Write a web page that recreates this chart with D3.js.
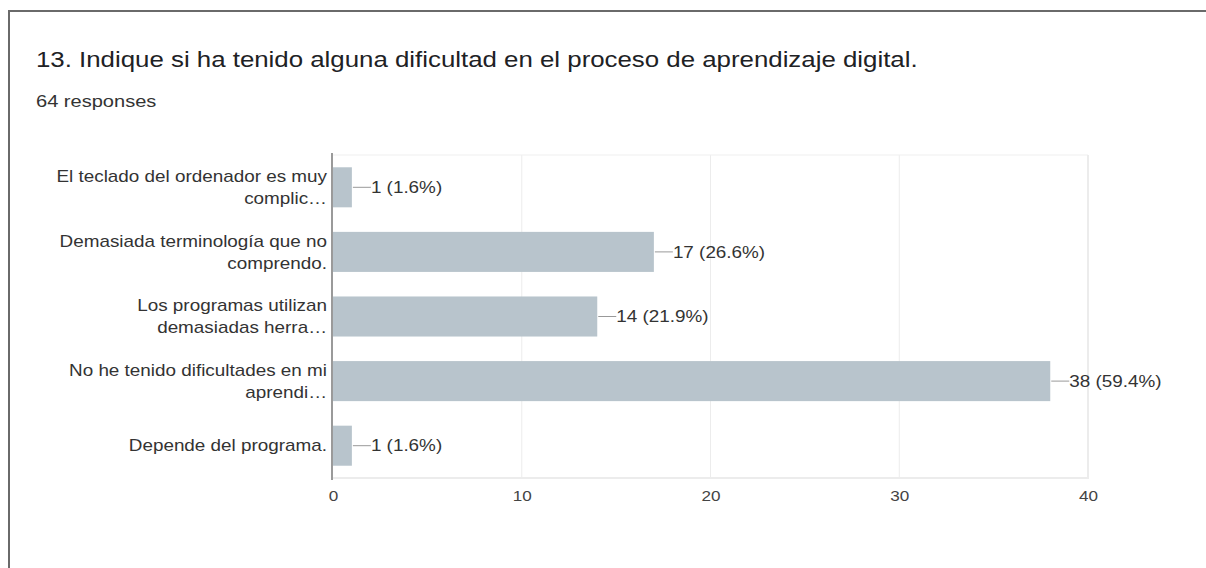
<!DOCTYPE html>
<html><head><meta charset="utf-8">
<script src="https://cdn.jsdelivr.net/npm/d3@7"></script>
<style>body{margin:0;background:#fff}svg{display:block}</style>
</head><body>
<svg id="c" width="1206" height="568"></svg>
<script>
const categories = [
  ["El teclado del ordenador es muy", "complic…"],
  ["Demasiada terminología que no", "comprendo."],
  ["Los programas utilizan", "demasiadas herra…"],
  ["No he tenido dificultades en mi", "aprendi…"],
  ["Depende del programa."]
];
const counts = [1, 17, 14, 38, 1];
const percents = ["1.6%", "26.6%", "21.9%", "59.4%", "1.6%"];
const tickValues = [0, 10, 20, 30, 40];
const title = "13. Indique si ha tenido alguna dificultad en el proceso de aprendizaje digital.";
const subtitle = "64 responses";

(function(){
const svg = d3.select("#c");
const font = "'Liberation Sans', Arial, Helvetica, sans-serif";
const SX = 1.18; // horizontal stretch of the reference text

function stretchedText(parent, x, y, size, anchor, txt, fill){
  const gg = parent.append("g").attr("transform",`translate(${x},${y}) scale(${SX},1)`);
  return gg.append("text").attr("x",0).attr("y",0).attr("font-family",font).attr("font-size",size)
    .attr("text-anchor",anchor).attr("fill",fill).text(txt);
}

// outer card border
svg.append("path").attr("d","M9,568 V11 H1206").attr("fill","none").attr("stroke","#6a6a6a").attr("stroke-width",2);

stretchedText(svg,36,67,21.9,"start",title,"#202124");
stretchedText(svg,36,107,17,"start",subtitle,"#333");

const x0 = 333, x1 = 1088, pTop = 155, pBottom = 478;
const x = d3.scaleLinear().domain([0,40]).range([x0,x1]);
const idx = d3.range(categories.length);
const y = d3.scaleBand().domain(idx).range([pTop,pBottom]).paddingInner(0.38).paddingOuter(0.19);

const g = svg.append("g");
g.selectAll("line.grid").data(tickValues.slice(1)).join("line")
  .attr("x1",d=>x(d)).attr("x2",d=>x(d)).attr("y1",pTop).attr("y2",pBottom)
  .attr("stroke","#ececec").attr("stroke-width",1);
g.append("line").attr("x1",x0).attr("x2",x1).attr("y1",pTop).attr("y2",pTop).attr("stroke","#efefef");
g.append("line").attr("x1",x0).attr("x2",x1+1).attr("y1",pBottom).attr("y2",pBottom).attr("stroke","#ececec").attr("stroke-width",2);
g.append("line").attr("x1",x1).attr("x2",x1).attr("y1",pTop).attr("y2",pBottom).attr("stroke","#ececec").attr("stroke-width",2);

g.selectAll("rect.bar").data(idx).join("rect")
  .attr("x",x(0)).attr("y",i=>y(i)).attr("width",i=>x(counts[i])-x(0)).attr("height",y.bandwidth())
  .attr("fill","#b8c4cc");

g.append("line").attr("x1",x0-1).attr("x2",x0-1).attr("y1",pTop-2).attr("y2",pBottom+2)
  .attr("stroke","#9a9a9a").attr("stroke-width",2);

g.selectAll("line.lead").data(idx).join("line")
  .attr("x1",i=>x(counts[i])+1).attr("x2",i=>x(counts[i])+19)
  .attr("y1",i=>y(i)+y.bandwidth()/2).attr("y2",i=>y(i)+y.bandwidth()/2)
  .attr("stroke","#999").attr("stroke-width",1);
idx.forEach(i=>{
  stretchedText(g, x(counts[i])+19, y(i)+y.bandwidth()/2, 16, "start", `${counts[i]} (${percents[i]})`, "#333")
    .attr("dy","0.35em");
});

idx.forEach(i=>{
  const lines = categories[i];
  const cy = y(i)+y.bandwidth()/2;
  const lh = 22;
  const startY = cy - (lines.length-1)*lh/2;
  lines.forEach((t,k)=>{
    stretchedText(g, 327, startY+k*lh, 16, "end", t, "#333").attr("dy","0.35em");
  });
});

const ax = d3.axisBottom(x).tickValues(tickValues).tickSize(0).tickPadding(13);
const axg = svg.append("g").attr("transform",`translate(0,${pBottom})`).call(ax);
axg.select(".domain").remove();
axg.selectAll("text").attr("font-family",font).attr("font-size",14.5).attr("fill","#444")
  .attr("transform",`scale(${SX},1)`);
})();
</script>
</body></html>
